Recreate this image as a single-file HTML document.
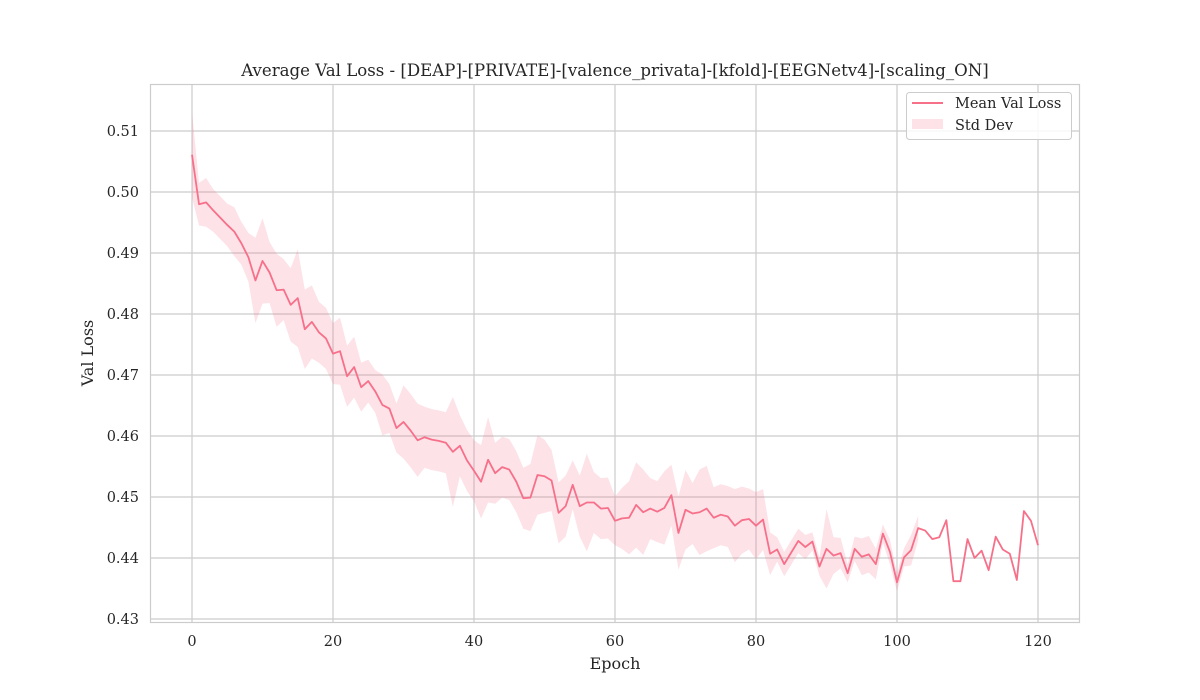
<!DOCTYPE html>
<html><head><meta charset="utf-8"><style>
body{margin:0;background:#fff;}
svg{display:block;font-family:"DejaVu Serif","Liberation Serif",serif;}
</style></head><body>
<svg id="chart" width="1200" height="700">
<rect x="0" y="0" width="1200" height="700" fill="#fff"/>
<g id="grid"></g>
<g id="band"></g>
<g id="line"></g>
<rect x="150.5" y="84.5" width="929" height="538" fill="none" stroke="#cccccc" stroke-width="1.2"/>
<g id="ticks"></g>
<text x="615" y="76" text-anchor="middle" font-size="16.6" fill="#262626">Average Val Loss - [DEAP]-[PRIVATE]-[valence_privata]-[kfold]-[EEGNetv4]-[scaling_ON]</text>
<text x="615" y="669" text-anchor="middle" font-size="16" fill="#262626">Epoch</text>
<text x="93" y="353" text-anchor="middle" font-size="16" fill="#262626" transform="rotate(-90 93 353)">Val Loss</text>
<g>
<rect x="906.5" y="92.5" width="165" height="47" rx="3" fill="#fff" fill-opacity="0.85" stroke="#cccccc"/>
<line x1="912" y1="103" x2="943" y2="103" stroke="#f7708a" stroke-width="2"/>
<text x="955" y="108" font-size="14.5" fill="#262626">Mean Val Loss</text>
<rect x="912" y="119" width="31" height="10" fill="#f7708a" fill-opacity="0.2"/>
<text x="955" y="130" font-size="14.5" fill="#262626">Std Dev</text>
</g>
</svg>
<script>
const epochs = Array.from({length:121},(_,i)=>i);
const meanLoss = [0.5061,0.4980,0.4983,0.4970,0.4958,0.4946,0.4935,0.4916,0.4893,0.4855,0.4887,0.4868,0.4839,0.4840,0.4815,0.4826,0.4775,0.4787,0.4770,0.4760,0.4735,0.4739,0.4698,0.4713,0.4680,0.4690,0.4673,0.4651,0.4645,0.4613,0.4623,0.4609,0.4593,0.4598,0.4594,0.4592,0.4589,0.4574,0.4584,0.4560,0.4543,0.4525,0.4561,0.4539,0.4549,0.4545,0.4525,0.4498,0.4499,0.4536,0.4534,0.4527,0.4474,0.4485,0.4520,0.4485,0.4491,0.4491,0.4481,0.4482,0.4461,0.4465,0.4466,0.4487,0.4475,0.4481,0.4476,0.4482,0.4503,0.4441,0.4479,0.4473,0.4475,0.4481,0.4466,0.4471,0.4468,0.4453,0.4462,0.4464,0.4453,0.4463,0.4407,0.4414,0.4390,0.4409,0.4428,0.4418,0.4427,0.4386,0.4415,0.4404,0.4408,0.4375,0.4415,0.4402,0.4406,0.4390,0.4440,0.4410,0.4360,0.4401,0.4413,0.4449,0.4445,0.4431,0.4434,0.4462,0.4362,0.4362,0.4431,0.4400,0.4412,0.4380,0.4435,0.4414,0.4407,0.4364,0.4477,0.4461,0.4421];
const stdLoss = [0.007,0.0035,0.004,0.0035,0.0035,0.0035,0.004,0.0035,0.004,0.007,0.007,0.005,0.006,0.005,0.006,0.008,0.0065,0.006,0.005,0.005,0.005,0.0055,0.005,0.005,0.004,0.0035,0.0035,0.005,0.004,0.004,0.006,0.006,0.006,0.005,0.005,0.005,0.005,0.009,0.005,0.005,0.005,0.006,0.007,0.005,0.005,0.005,0.005,0.005,0.0055,0.0065,0.006,0.005,0.005,0.005,0.004,0.005,0.008,0.005,0.005,0.005,0.004,0.005,0.006,0.007,0.007,0.005,0.005,0.006,0.005,0.006,0.0065,0.005,0.007,0.007,0.005,0.005,0.005,0.006,0.0055,0.005,0.0055,0.005,0.0035,0.002,0.002,0.002,0.002,0.002,0.0015,0.0015,0.0065,0.003,0.0025,0.0015,0.002,0.003,0.003,0.0025,0.0015,0.002,0.0015,0.0015,0.0025,0.002];
const xTicks = [0,20,40,60,80,100,120];
const yTicks = [0.43,0.44,0.45,0.46,0.47,0.48,0.49,0.50,0.51];

const NS='http://www.w3.org/2000/svg';
const X = v => 192 + v*(1038-192)/120;
const Y = v => 131 + (0.51 - v)*6100;
function mk(tag, attrs, parent){const e=document.createElementNS(NS,tag);for(const k in attrs)e.setAttribute(k,attrs[k]);parent.appendChild(e);return e;}
const grid=document.getElementById('grid'), ticks=document.getElementById('ticks');
xTicks.forEach(t=>{
  const l=mk('line',{x1:X(t),x2:X(t),y1:84.5,y2:622.5,stroke:'#cccccc','stroke-width':1.2},grid);
  
  
  const tx=mk('text',{x:X(t),y:646,'text-anchor':'middle','font-size':14.5,fill:'#262626'},ticks);
  tx.textContent=t;
  
  
});
yTicks.forEach(t=>{
  const l=mk('line',{x1:150.5,x2:1079.5,y1:Y(t),y2:Y(t),stroke:'#cccccc','stroke-width':1.2},grid);
  
  
  const tx=mk('text',{x:139,y:Y(t)+5,'text-anchor':'end','font-size':14.5,fill:'#262626'},ticks);
  tx.textContent=t.toFixed(2);
  
  
});
let up=[],lo=[];
stdLoss.forEach((s,i)=>{up.push(X(epochs[i])+','+Y(meanLoss[i]+s));lo.unshift(X(epochs[i])+','+Y(meanLoss[i]-s));});
const band=mk('polygon',{points:up.concat(lo).join(' '),fill:'#f7708a','fill-opacity':0.2},document.getElementById('band'));


const pts=meanLoss.map((v,i)=>X(epochs[i])+','+Y(v)).join(' ');
const ln=mk('polyline',{points:pts,fill:'none',stroke:'#f7708a','stroke-width':1.8,'stroke-linejoin':'round'},document.getElementById('line'));


</script>
</body></html>
